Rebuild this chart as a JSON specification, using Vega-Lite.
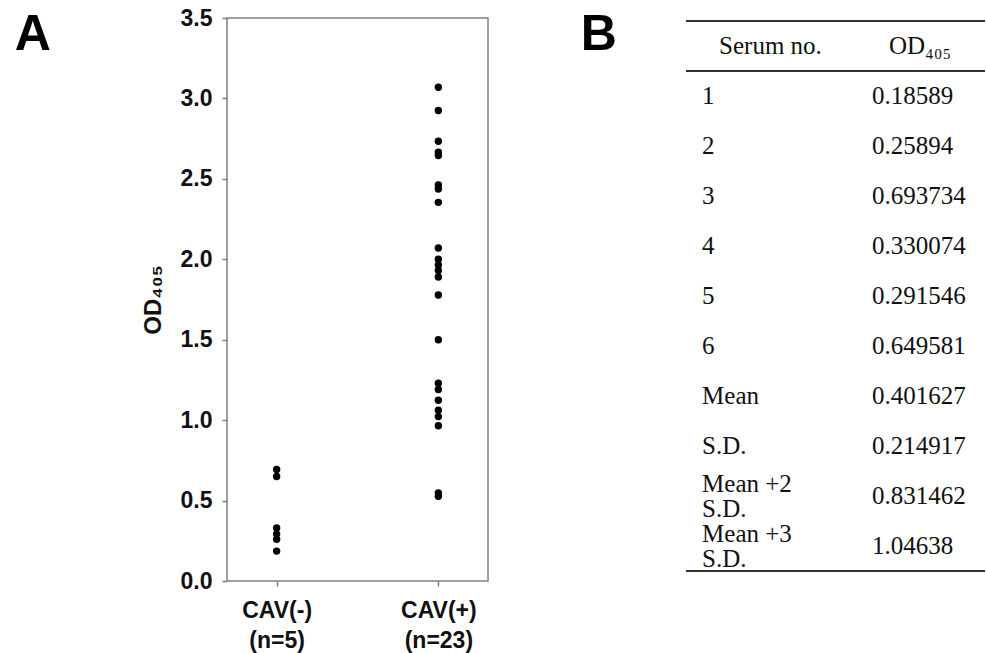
{
  "$schema": "https://vega.github.io/schema/vega-lite/v6.json",
  "background": "white",
  "padding": {"left": 14, "top": 6, "right": 0, "bottom": 0},
  "spacing": 91,
  "config": {"view": {"stroke": null}, "font": "Liberation Sans"},
  "hconcat": [
    {
      "width": 261,
      "height": 563,
      "view": {"stroke": "#808080", "strokeWidth": 1.5},
      "title": {"text": "A", "orient": "left", "anchor": "end", "angle": 0, "align": "right", "baseline": "top", "fontSize": 50, "fontWeight": "bold", "font": "Liberation Sans", "color": "#000", "offset": 54, "dy": 3},
      "data": {"values": [
        {"group": "CAV(-) (n=5)", "od": 0.18589},
        {"group": "CAV(-) (n=5)", "od": 0.25894},
        {"group": "CAV(-) (n=5)", "od": 0.693734},
        {"group": "CAV(-) (n=5)", "od": 0.330074},
        {"group": "CAV(-) (n=5)", "od": 0.291546},
        {"group": "CAV(-) (n=5)", "od": 0.649581},
        {"group": "CAV(+) (n=23)", "od": 3.07},
        {"group": "CAV(+) (n=23)", "od": 2.925},
        {"group": "CAV(+) (n=23)", "od": 2.734},
        {"group": "CAV(+) (n=23)", "od": 2.665},
        {"group": "CAV(+) (n=23)", "od": 2.645},
        {"group": "CAV(+) (n=23)", "od": 2.462},
        {"group": "CAV(+) (n=23)", "od": 2.437},
        {"group": "CAV(+) (n=23)", "od": 2.354},
        {"group": "CAV(+) (n=23)", "od": 2.07},
        {"group": "CAV(+) (n=23)", "od": 2.0},
        {"group": "CAV(+) (n=23)", "od": 1.965},
        {"group": "CAV(+) (n=23)", "od": 1.93},
        {"group": "CAV(+) (n=23)", "od": 1.89},
        {"group": "CAV(+) (n=23)", "od": 1.778},
        {"group": "CAV(+) (n=23)", "od": 1.5},
        {"group": "CAV(+) (n=23)", "od": 1.23},
        {"group": "CAV(+) (n=23)", "od": 1.19},
        {"group": "CAV(+) (n=23)", "od": 1.124},
        {"group": "CAV(+) (n=23)", "od": 1.062},
        {"group": "CAV(+) (n=23)", "od": 1.022},
        {"group": "CAV(+) (n=23)", "od": 0.965},
        {"group": "CAV(+) (n=23)", "od": 0.548},
        {"group": "CAV(+) (n=23)", "od": 0.527}
      ]},
      "mark": {"type": "circle", "size": 55, "color": "#000", "opacity": 1},
      "encoding": {
        "x": {
          "field": "group", "type": "nominal",
          "sort": ["CAV(-) (n=5)", "CAV(+) (n=23)"],
          "scale": {"type": "point", "padding": 0.307},
          "axis": {
            "title": null, "labelAngle": 0, "labelExpr": "split(datum.label, ' ')",
            "labelFont": "Liberation Sans", "labelFontSize": 23, "labelFontWeight": "bold",
            "labelColor": "#111", "labelLineHeight": 30, "labelPadding": 13,
            "tickSize": 5, "tickColor": "#808080", "tickWidth": 1.5, "domain": false
          }
        },
        "y": {
          "field": "od", "type": "quantitative",
          "scale": {"domain": [0, 3.5], "nice": false},
          "axis": {
            "title": "OD₄₀₅", "titleFont": "Liberation Sans", "titleFontSize": 24, "titleFontWeight": "bold", "titleColor": "#111", "titlePadding": 15,
            "values": [0, 0.5, 1, 1.5, 2, 2.5, 3, 3.5], "format": ".1f",
            "labelFont": "Liberation Sans", "labelFontSize": 23, "labelFontWeight": "bold", "labelColor": "#111",
            "labelPadding": 10, "tickSize": 5, "tickColor": "#808080", "tickWidth": 1.5,
            "grid": false, "domain": false
          }
        }
      }
    },
    {
      "width": 299,
      "height": 556,
      "title": {"text": "B", "orient": "left", "anchor": "end", "angle": 0, "align": "right", "baseline": "top", "fontSize": 50, "fontWeight": "bold", "font": "Liberation Sans", "color": "#000", "offset": 32, "dy": -8},
      "data": {"values": [
        {"serum": "1", "od": "0.18589"},
        {"serum": "2", "od": "0.25894"},
        {"serum": "3", "od": "0.693734"},
        {"serum": "4", "od": "0.330074"},
        {"serum": "5", "od": "0.291546"},
        {"serum": "6", "od": "0.649581"},
        {"serum": "Mean", "od": "0.401627"},
        {"serum": "S.D.", "od": "0.214917"},
        {"serum": "Mean +2\nS.D.", "od": "0.831462"},
        {"serum": "Mean +3\nS.D.", "od": "1.04638"}
      ]},
      "resolve": {"scale": {"x": "shared", "y": "shared"}},
      "encoding": {
        "y": {
          "field": "serum", "type": "ordinal",
          "scale": {"type": "band", "domain": ["Serum no.", "1", "2", "3", "4", "5", "6", "Mean", "S.D.", "Mean +2\nS.D.", "Mean +3\nS.D."], "paddingInner": 0, "paddingOuter": 0.06},
          "axis": null
        }
      },
      "layer": [
        {
          "transform": [{"filter": "indexof(datum.serum, '\\n') < 0"}],
          "mark": {"type": "text", "align": "left", "baseline": "middle", "dx": -48.5, "font": "Liberation Serif", "fontSize": 25, "color": "#111"},
          "encoding": {
            "x": {"datum": "Serum no.", "type": "nominal", "scale": {"type": "point", "domain": ["Serum no.", "OD₄₀₅"], "padding": 0.38}, "axis": null},
            "text": {"field": "serum"}
          }
        },
        {
          "transform": [{"filter": "indexof(datum.serum, '\\n') >= 0"}],
          "mark": {"type": "text", "align": "left", "baseline": "middle", "dx": -48.5, "dy": -12.5, "font": "Liberation Serif", "fontSize": 25, "color": "#111", "lineBreak": "\n", "lineHeight": 25},
          "encoding": {
            "x": {"datum": "Serum no.", "type": "nominal"},
            "text": {"field": "serum"}
          }
        },
        {
          "mark": {"type": "text", "align": "left", "baseline": "middle", "dx": -48.5, "font": "Liberation Serif", "fontSize": 25, "color": "#111"},
          "encoding": {
            "x": {"datum": "OD₄₀₅", "type": "nominal"},
            "text": {"field": "od"}
          }
        },
        {
          "data": {"values": [{"column": "Serum no."}, {"column": "OD₄₀₅"}]},
          "mark": {"type": "text", "align": "left", "baseline": "middle", "dx": -31.5, "font": "Liberation Serif", "fontSize": 25, "color": "#111"},
          "encoding": {
            "x": {"field": "column", "type": "nominal"},
            "y": {"datum": "Serum no."},
            "text": {"field": "column"}
          }
        },
        {
          "data": {"values": [{"edge": "top"}]},
          "mark": {"type": "rule", "color": "#333", "strokeWidth": 2},
          "encoding": {"y": {"datum": "Serum no.", "bandPosition": 0}}
        },
        {
          "data": {"values": [{"edge": "header"}]},
          "mark": {"type": "rule", "color": "#333", "strokeWidth": 2},
          "encoding": {"y": {"datum": "1", "bandPosition": 0}}
        },
        {
          "data": {"values": [{"edge": "bottom"}]},
          "mark": {"type": "rule", "color": "#333", "strokeWidth": 2},
          "encoding": {"y": {"datum": "Mean +3\nS.D.", "bandPosition": 1}}
        }
      ]
    }
  ]
}
